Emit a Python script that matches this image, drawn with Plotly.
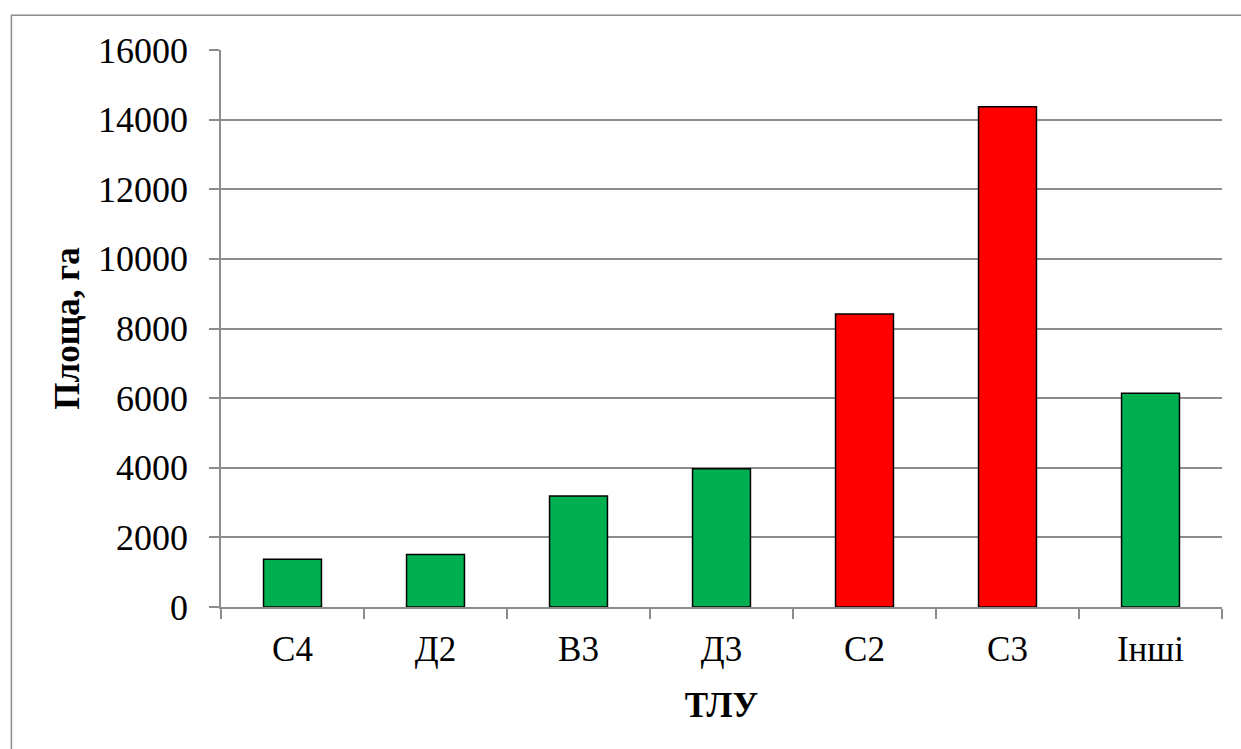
import plotly.graph_objects as go

categories = ["С4", "Д2", "В3", "Д3", "С2", "С3", "Інші"]
values = [1370, 1510, 3190, 3970, 8420, 14370, 6140]
bar_colors = ["#00B050", "#00B050", "#00B050", "#00B050", "#FF0000", "#FF0000", "#00B050"]
y_ticks = [0, 2000, 4000, 6000, 8000, 10000, 12000, 14000, 16000]

FONT = "Liberation Serif"
GRID = "#8c8c8c"

fig = go.Figure(go.Bar(
    x=categories, y=values,
    marker=dict(color=bar_colors, line=dict(color="#000000", width=1.5)),
))

fig.update_layout(
    width=1241, height=749,
    margin=dict(l=221, r=19, t=50, b=142),
    paper_bgcolor="white", plot_bgcolor="white",
    bargap=0.595,
    showlegend=False,
    font=dict(family=FONT, size=36, color="black"),
    xaxis=dict(
        type="category",
        showline=True, linecolor=GRID, linewidth=1.5,
        ticks="outside", tickson="boundaries", ticklen=10, tickcolor=GRID, tickwidth=1.5,
        showgrid=False,
        ticklabelstandoff=10,
        tickfont=dict(family=FONT, size=35, color="black"),
        title=dict(text="<b>ТЛУ</b>", font=dict(family=FONT, size=35, color="black"), standoff=25),
    ),
    yaxis=dict(
        range=[0, 16000], tickvals=y_ticks, tickformat="d",
        showline=True, linecolor=GRID, linewidth=1.5,
        showgrid=True, gridcolor=GRID, gridwidth=1.5,
        ticks="outside", ticklen=10, tickcolor=GRID, tickwidth=1.5,
        zeroline=False,
        ticklabelstandoff=14,
        tickfont=dict(family=FONT, size=36, color="black"),
        title=dict(text="<b>Площа, га</b>", font=dict(family=FONT, size=35, color="black"), standoff=8),
    ),
    shapes=[dict(
        type="rect", xref="paper", yref="paper",
        x0=-0.2094, x1=1.2, y0=-0.5, y1=1.0622,
        line=dict(color=GRID, width=1.5), fillcolor="rgba(0,0,0,0)", layer="below",
    )],
)

fig.write_html("out.html", config={"displayModeBar": False},
               post_script="document.body.style.margin='0px';document.body.style.overflow='hidden';")
